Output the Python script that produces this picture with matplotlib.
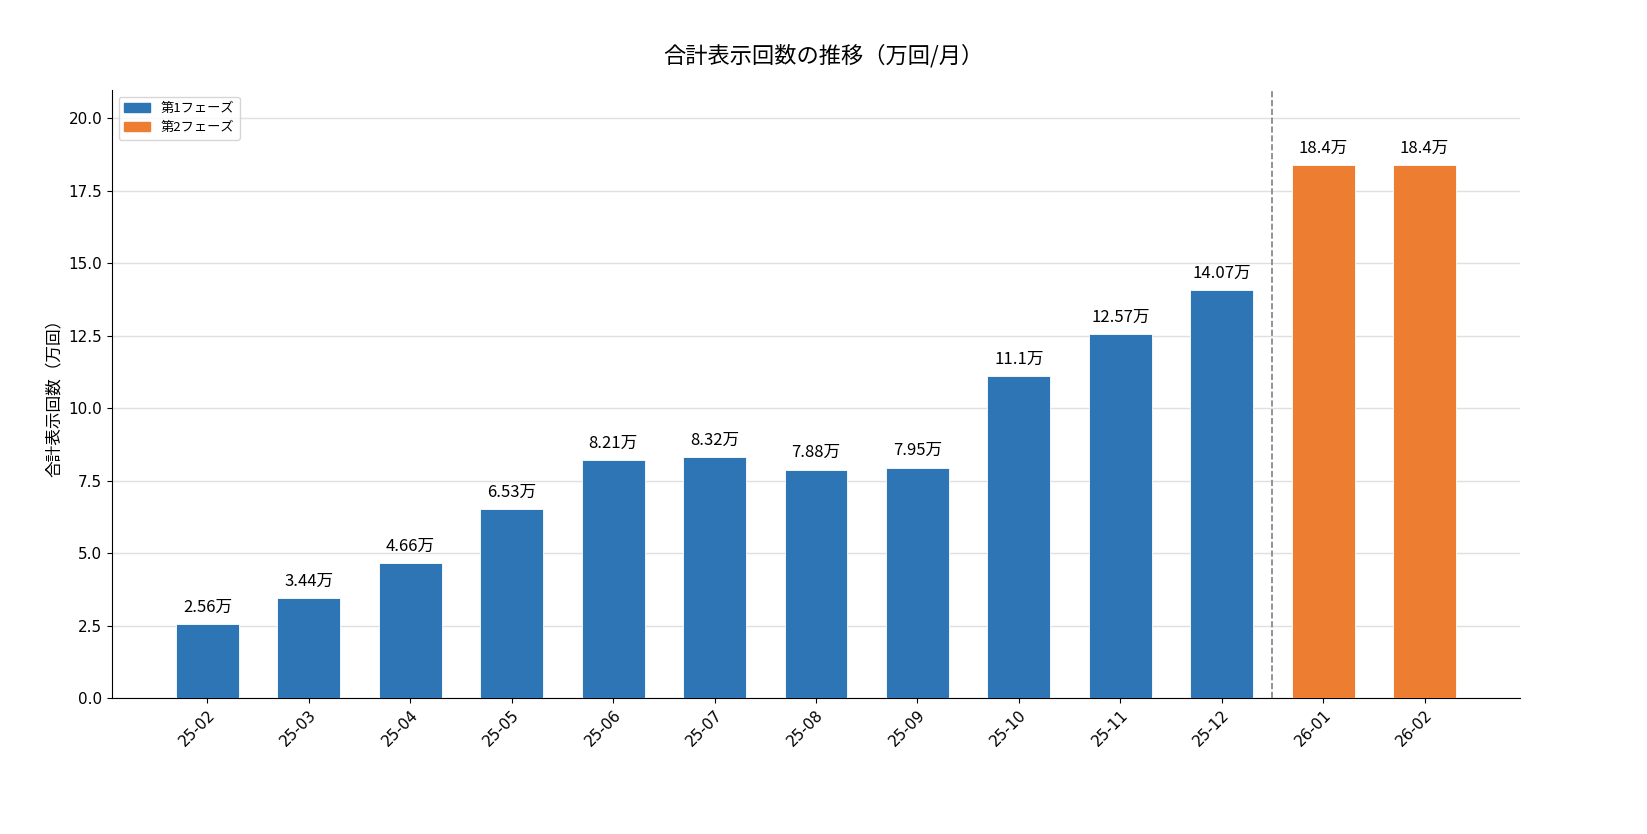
import matplotlib
matplotlib.use("Agg")
import matplotlib.pyplot as plt
from matplotlib.patches import Patch

months = ["25-02", "25-03", "25-04", "25-05", "25-06", "25-07", "25-08",
          "25-09", "25-10", "25-11", "25-12", "26-01", "26-02"]
values = [2.56, 3.44, 4.66, 6.53, 8.21, 8.32, 7.88, 7.95, 11.1, 12.57, 14.07, 18.4, 18.4]
phases = [1, 1, 1, 1, 1, 1, 1, 1, 1, 1, 1, 2, 2]
labels = ["2.56万", "3.44万", "4.66万", "6.53万", "8.21万", "8.32万", "7.88万",
          "7.95万", "11.1万", "12.57万", "14.07万", "18.4万", "18.4万"]

plt.rcParams['font.family'] = ['DejaVu Sans', 'Noto Sans CJK JP']
CJK = ['Noto Sans CJK JP', 'DejaVu Sans']

c1 = "#2E75B6"
c2 = "#ED7D31"
colors = [c1 if p == 1 else c2 for p in phases]

fig = plt.figure(figsize=(16.47, 8.34), dpi=100)
ax = fig.add_axes([112/1647, 1 - 698/834, (1520-112)/1647, (698-90)/834])

x = list(range(len(months)))
bars = ax.bar(x, values, width=0.62, color=colors, edgecolor="white", linewidth=0.6, zorder=3)
for b, lab in zip(bars, labels):
    ax.annotate(lab, (b.get_x() + b.get_width()/2, b.get_height()),
                xytext=(0, 6), textcoords="offset points", ha="center", va="bottom",
                fontsize=12, family=CJK)

ax.axvline(10.5, color="gray", linestyle="--", linewidth=1.2, zorder=4)
ax.set_ylim(0, 20.98)
ax.set_yticks([0, 2.5, 5, 7.5, 10, 12.5, 15, 17.5, 20])
ax.set_xticks(x)
ax.set_xticklabels(months, rotation=45, ha="right", rotation_mode="anchor", fontsize=11)
ax.tick_params(axis="y", labelsize=11)
ax.grid(axis="y", color="#e0e0e0", linewidth=1, zorder=0)
ax.set_axisbelow(True)
ax.spines["top"].set_visible(False)
ax.spines["right"].set_visible(False)
ax.set_ylabel("合計表示回数（万回）", fontsize=12, family=CJK)
fig.suptitle("合計表示回数の推移（万回/月）", fontsize=16, family=CJK, y=1 - 56/834, va="center")

handles = [Patch(color=c1, label="第1フェーズ"), Patch(color=c2, label="第2フェーズ")]
leg = ax.legend(handles=handles, loc="upper left", prop={'family': CJK, 'size': 9.5})

fig.savefig("out.png", dpi=100)
